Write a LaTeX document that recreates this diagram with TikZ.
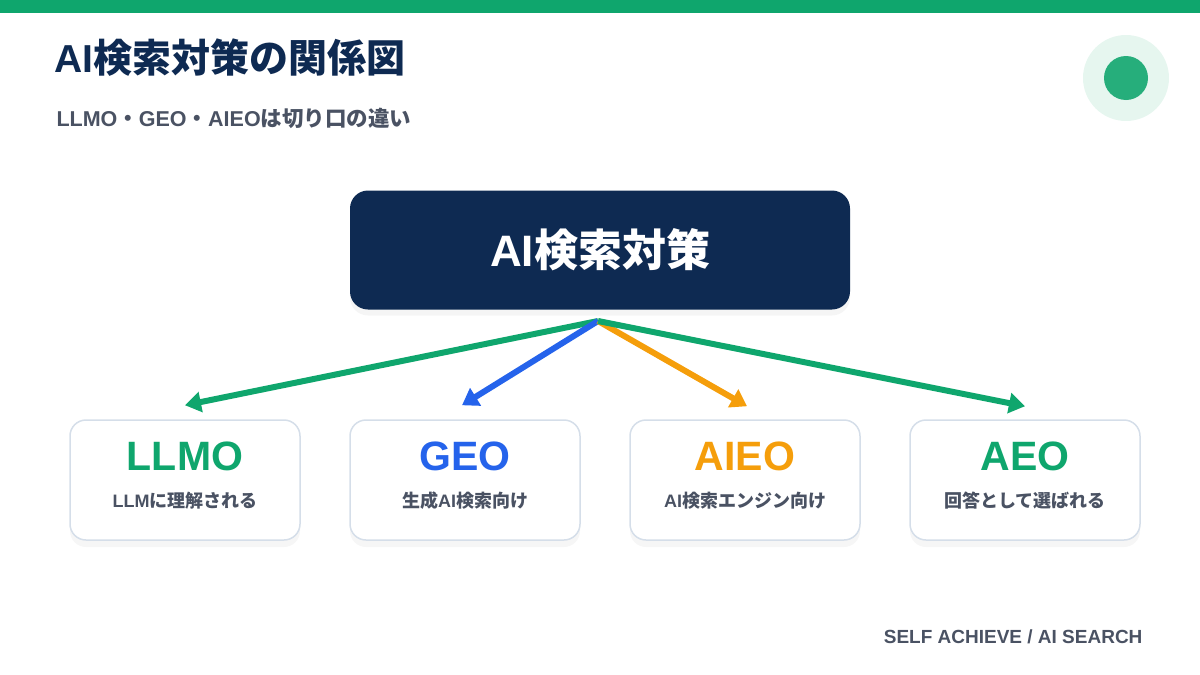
\documentclass[tikz,border=0pt]{standalone}
\usepackage{fontspec}
\setmainfont{Noto Sans CJK JP}[BoldFont={Noto Sans CJK JP Black}]
\newfontfamily\lat{Liberation Sans}
\usepackage{xcolor}
\usetikzlibrary{arrows.meta,shadows}

\definecolor{navy}{HTML}{0E2A52}
\definecolor{leaf}{HTML}{0FA66D}
\definecolor{sky}{HTML}{2563EB}
\definecolor{amber}{HTML}{F59E0B}
\definecolor{slate}{HTML}{4A5263}
\definecolor{edge}{HTML}{D5DEE9}
\definecolor{mint}{HTML}{E6F6EF}
\definecolor{dot}{HTML}{26AE7B}

\begin{document}
\begin{tikzpicture}[x=1pt,y=-1pt,font=\bfseries,
	main box/.style = {rounded corners=18pt, fill=navy, text=white, minimum width=500pt, minimum height=119pt,
		drop shadow={opacity=0.08, shadow xshift=0pt, shadow yshift=-6pt}, font=\fontsize{44}{48}\selectfont\bfseries},
	sub box/.style = {rounded corners=16pt, draw=edge, line width=1.5pt, fill=white, minimum width=230pt, minimum height=120pt,
		drop shadow={opacity=0.07, shadow xshift=0pt, shadow yshift=-7pt}},
	head/.style = {font=\fontsize{41}{45}\selectfont\lat\bfseries},
	note/.style = {text=slate, font=\fontsize{18}{21}\selectfont\bfseries},
	link/.style = {line width=6pt, -{Triangle[length=16pt,width=20pt]}}]
	\useasboundingbox (0,0) rectangle (1200,675);
	\fill[leaf] (0,0) rectangle (1200,13);
	\node[anchor=west, text=navy, font=\fontsize{39}{42}\selectfont\bfseries] at (51,58) (title) {{\lat AI}検索対策の関係図};
	\node[anchor=west, note, font=\fontsize{21.5}{24}\selectfont\bfseries] at (53,118) (subtitle) {{\lat LLMO}・{\lat GEO}・{\lat AIEO}は切り口の違い};
	\fill[mint] (1126,78) circle (43);
	\fill[dot] (1126,78) circle (22);
	\node[main box] at (600,250) (ai) {{\lat AI}検索対策};
	\coordinate (hub) at (598,321);
	\node[sub box] at (185,480) (llmo) {};
	\node[sub box] at (465,480) (geo) {};
	\node[sub box] at (745,480) (aieo) {};
	\node[sub box] at (1025,480) (aeo) {};
	\node[head, text=leaf] at (185,456) (llmo t) {LLMO};
	\node[head, text=sky] at (465,456) (geo t) {GEO};
	\node[head, text=amber] at (745,456) (aieo t) {AIEO};
	\node[head, text=leaf] at (1025,456) (aeo t) {AEO};
	\node[note] at (185,501) (llmo s) {{\lat LLM}に理解される};
	\node[note] at (465,501) (geo s) {生成{\lat AI}検索向け};
	\node[note] at (745,501) (aieo s) {{\lat AI}検索エンジン向け};
	\node[note] at (1025,501) (aeo s) {回答として選ばれる};
	\draw[link, leaf] (hub) -- ([yshift=14pt]llmo.north);
	\draw[link, sky] (hub) -- ([xshift=-3pt,yshift=14pt]geo.north);
	\draw[link, amber] (hub) -- ([xshift=2pt,yshift=13pt]aieo.north);
	\draw[link, leaf] (hub) -- ([yshift=13pt]aeo.north);
	\node[anchor=east, note, font=\fontsize{19}{22}\selectfont\lat\bfseries] at (1146,637) (foot) {SELF ACHIEVE / AI SEARCH};
\end{tikzpicture}
\end{document}
